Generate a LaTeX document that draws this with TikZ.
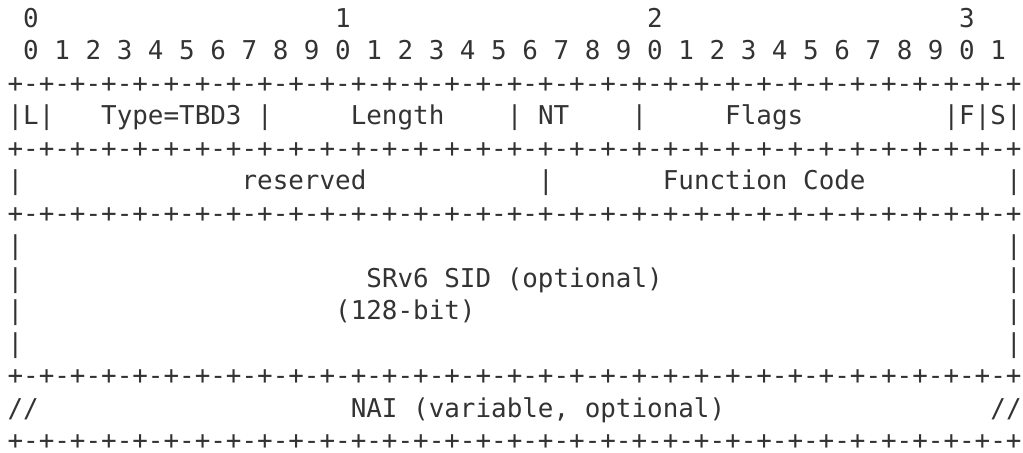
\documentclass[tikz,border=0pt]{standalone}
\usepackage{fontspec}
\newfontfamily\pktmono{DejaVu Sans Mono}[WordSpace={1,0,0}]
\usepackage{tikz}
\definecolor{asciigray}{rgb}{0.2,0.2,0.2}
\newcommand{\sepline}{+-+-+-+-+-+-+-+-+-+-+-+-+-+-+-+-+-+-+-+-+-+-+-+-+-+-+-+-+-+-+-+-+}
\frenchspacing

\begin{document}
\begin{tikzpicture}[x=7.8pt, y=-16.25pt,
  txt/.style={anchor=base west, inner sep=0pt, text=asciigray,
    font=\pktmono\fontsize{12.956pt}{16.25pt}\selectfont}]
\useasboundingbox (-0.4615,-0.8308) rectangle (65.115,13.077);
% bit ruler
\node[txt] (d0) at (1,0)  {0};
\node[txt] (d1) at (21,0) {1};
\node[txt] (d2) at (41,0) {2};
\node[txt] (d3) at (61,0) {3};
\node[txt] (bits) at (1,1) {0 1 2 3 4 5 6 7 8 9 0 1 2 3 4 5 6 7 8 9 0 1 2 3 4 5 6 7 8 9 0 1};
% separators
\node[txt] (sepA) at (0,2)  {\sepline};
\node[txt] (sepB) at (0,4)  {\sepline};
\node[txt] (sepC) at (0,6)  {\sepline};
\node[txt] (sepD) at (0,11) {\sepline};
\node[txt] (sepE) at (0,13) {\sepline};
% first word
\node[txt] (lbit)   at (0,3)  {|L|};
\node[txt] (type)   at (6,3)  {Type=TBD3 |};
\node[txt] (length) at (22,3) {Length};
\node[txt] (nt)     at (32,3) {| NT};
\node[txt] (ntend)  at (40,3) {|};
\node[txt] (flags)  at (46,3) {Flags};
\node[txt] (fs)     at (60,3) {|F|S|};
% second word
\node[txt] (resl)  at (0,5)  {|};
\node[txt] (res)   at (15,5) {reserved};
\node[txt] (resm)  at (34,5) {|};
\node[txt] (func)  at (42,5) {Function Code};
\node[txt] (resr)  at (64,5) {|};
% SID
\node[txt] (sidl7)  at (0,7)   {|};
\node[txt] (sidr7)  at (64,7)  {|};
\node[txt] (sidl8)  at (0,8)   {|};
\node[txt] (sid)    at (23,8)  {SRv6 SID (optional)};
\node[txt] (sidr8)  at (64,8)  {|};
\node[txt] (sidl9)  at (0,9)   {|};
\node[txt] (sidlen) at (21,9)  {(128-bit)};
\node[txt] (sidr9)  at (64,9)  {|};
\node[txt] (sidl10) at (0,10)  {|};
\node[txt] (sidr10) at (64,10) {|};
% NAI
\node[txt] (nail) at (0,12)  {//};
\node[txt] (nai)  at (22,12) {NAI (variable, optional)};
\node[txt] (nair) at (63,12) {//};
\end{tikzpicture}
\end{document}
